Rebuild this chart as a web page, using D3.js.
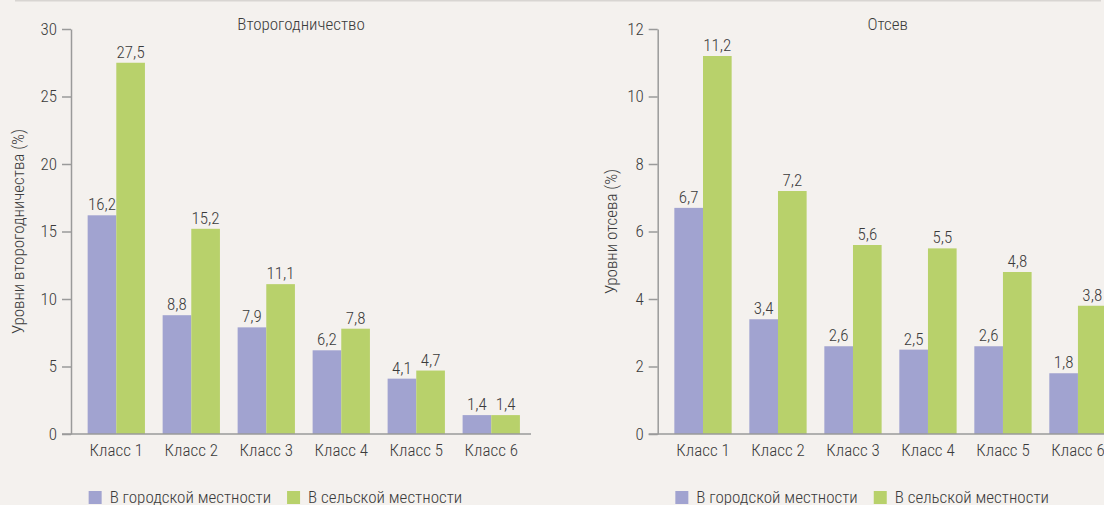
<!DOCTYPE html>
<html><head><meta charset="utf-8">
<script src="https://cdn.jsdelivr.net/npm/d3@7/dist/d3.min.js"></script>
<style>
html,body{margin:0;padding:0;background:#f4f1ee;}
svg{display:block;}
text{font-family:"Liberation Sans Narrow","Roboto Condensed","DejaVu Sans Condensed",sans-serif;font-weight:300;fill:#3b3b3b;}
</style></head>
<body>
<svg id="c" width="1104" height="505"></svg>
<script>
const categories = ["Класс 1","Класс 2","Класс 3","Класс 4","Класс 5","Класс 6"];
const seriesNames = ["В городской местности","В сельской местности"];
const repeatUrban = [16.2, 8.8, 7.9, 6.2, 4.1, 1.4];
const repeatRural = [27.5, 15.2, 11.1, 7.8, 4.7, 1.4];
const dropUrban = [6.7, 3.4, 2.6, 2.5, 2.6, 1.8];
const dropRural = [11.2, 7.2, 5.6, 5.5, 4.8, 3.8];
const repeatTicks = [0,5,10,15,20,25,30];
const dropTicks = [0,2,4,6,8,10,12];
const colors = ["#a1a3d0","#b8d16b"];

const svg = d3.select("#c");
svg.append("line").attr("x1",15).attr("x2",1101).attr("y1",0.5).attr("y2",0.5)
  .attr("stroke","#d8d5d2").attr("stroke-width",2);

function panel(x0, title, yLabel, labelOff, urban, rural, ticks, ymax){
  const W = 460, yTop = 29, yBot = 434;
  const g = svg.append("g");
  const x = d3.scaleBand().domain(categories).range([x0, x0+W])
    .paddingInner(0.236).paddingOuter(0.185).align(0.6);
  const xs = d3.scaleBand().domain(seriesNames).range([0, x.bandwidth()]);
  const y = d3.scaleLinear().domain([0, ymax]).range([yBot, yTop]);
  const fmt = v => String(v).replace(".", ",");

  // y axis
  const ya = g.append("g").attr("transform",`translate(${x0},0)`)
    .call(d3.axisLeft(y).tickValues(ticks).tickSize(9).tickPadding(5).tickSizeOuter(0));
  ya.select(".domain").attr("stroke","#9a9a9a").attr("stroke-width",1.5);
  ya.selectAll(".tick line").attr("stroke","#9a9a9a").attr("stroke-width",1.5);
  ya.selectAll(".tick text").style("font-size","17px").attr("fill","#3b3b3b");

  const data = categories.map((c,i)=>({c, vals:[urban[i], rural[i]]}));
  const grp = g.selectAll(".grp").data(data).join("g")
    .attr("transform", d=>`translate(${x(d.c)},0)`);
  grp.selectAll("rect").data(d=>d.vals.map((v,j)=>({v, s:seriesNames[j], j}))).join("rect")
    .attr("x", d=>xs(d.s)).attr("width", xs.bandwidth())
    .attr("y", d=>y(d.v)).attr("height", d=>y(0)-y(d.v))
    .attr("fill", d=>colors[d.j]);
  grp.selectAll("text.val").data(d=>d.vals.map((v,j)=>({v, s:seriesNames[j], j}))).join("text")
    .attr("class","val")
    .attr("x", d=>xs(d.s)+xs.bandwidth()/2).attr("y", d=>y(d.v)-5)
    .attr("text-anchor","middle").style("font-size","17px").text(d=>fmt(d.v));

  // x axis
  const xa = g.append("g").attr("transform",`translate(0,${yBot})`)
    .call(d3.axisBottom(x).tickSize(0).tickPadding(10));
  xa.select(".domain").remove();
  xa.selectAll(".tick text").style("font-size","17px").attr("fill","#3b3b3b");
  g.append("line").attr("x1", x0-9).attr("x2", x0+W).attr("y1", yBot).attr("y2", yBot)
    .attr("stroke","#9a9a9a").attr("stroke-width",1.5);

  // title
  g.append("text").attr("x", x0+W/2).attr("y", 30).attr("text-anchor","middle")
    .style("font-size","17px").attr("fill","#222").text(title);
  // y label
  g.append("text").attr("transform",`translate(${x0-labelOff},${(yTop+yBot)/2}) rotate(-90)`)
    .attr("text-anchor","middle").style("font-size","17px").text(yLabel);

  // legend
  const lg = g.append("g").attr("transform",`translate(${x(categories[0])+1},0)`);
  let cx = 0;
  seriesNames.forEach((s,j)=>{
    lg.append("rect").attr("x",cx).attr("y",491).attr("width",13).attr("height",13).attr("fill",colors[j]);
    const t = lg.append("text").attr("x",cx+21).attr("y",503).style("font-size","17px").text(s);
    cx += 21 + t.node().getComputedTextLength() + 16;
  });
}

panel(71, "Второгодничество", "Уровни второгодничества (%)", 47, repeatUrban, repeatRural, repeatTicks, 30);
panel(657.7, "Отсев", "Уровни отсева (%)", 41, dropUrban, dropRural, dropTicks, 12);
</script>
</body></html>
